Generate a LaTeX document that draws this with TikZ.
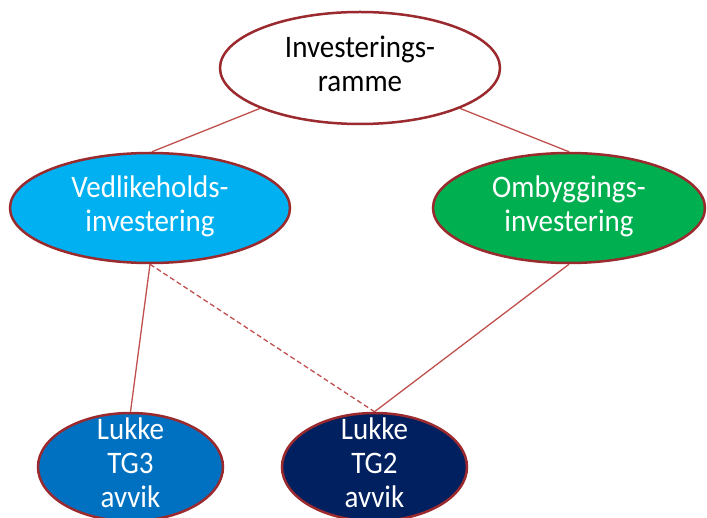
\documentclass[tikz,border=0pt]{standalone}
\usepackage{fontspec}
\usepackage{graphicx}
\setmainfont{Carlito}
\usetikzlibrary{shapes.geometric}
\definecolor{bord}{HTML}{9B2A2E}
\definecolor{connc}{HTML}{C0504D}
\definecolor{lblue}{HTML}{00B0F0}
\definecolor{grn}{HTML}{00B050}
\definecolor{mblue}{HTML}{0070C0}
\definecolor{navy}{HTML}{002060}
\newcommand\stx[1]{\scalebox{1}[1.08]{\begin{tabular}{@{}c@{}}#1\end{tabular}}}
\pgfdeclarelayer{bg}
\pgfsetlayers{bg,main}
\begin{document}
\begin{tikzpicture}[x=1pt,y=-1pt,
  ell/.style={ellipse, draw=bord, line width=2.5pt, inner sep=0pt},
  txt/.style={font=\fontsize{29}{31.5}\selectfont, inner sep=0pt},
  conn/.style={draw=connc, line width=1.3pt}]
\useasboundingbox (0,0) rectangle (707,518);
\clip (0,0) rectangle (707,518);
\node[ell, fill=white, minimum width=280pt, minimum height=112pt,
  label={[txt,text=black]center:\stx{Investerings-\\ramme}}] (top) at (360,68) {};
\node[ell, fill=lblue, minimum width=280pt, minimum height=110pt,
  label={[txt,text=white]center:\stx{Vedlikeholds-\\investering}}] (ved) at (150,208) {};
\node[ell, fill=grn, minimum width=272pt, minimum height=110pt,
  label={[txt,text=white]center:\stx{Ombyggings-\\investering}}] (omb) at (569,208) {};
\node[ell, fill=mblue, minimum width=185pt, minimum height=108pt,
  label={[txt,text=white]center:\stx{Lukke\\TG3\\avvik}}] (tg3) at (130.5,467) {};
\node[ell, fill=navy, minimum width=185pt, minimum height=108pt,
  label={[txt,text=white]center:\stx{Lukke\\TG2\\avvik}}] (tg2) at (374.5,467) {};
\begin{pgfonlayer}{bg}
\draw[conn] (top.202) -- (ved.88);
\draw[conn] (top.338) -- (omb.north);
\draw[conn] (ved.south) -- (tg3.north);
\draw[conn, dash pattern=on 5pt off 3pt] (ved.south) -- (tg2.north);
\draw[conn] (omb.south) -- (tg2.north);
\end{pgfonlayer}
\end{tikzpicture}
\end{document}
